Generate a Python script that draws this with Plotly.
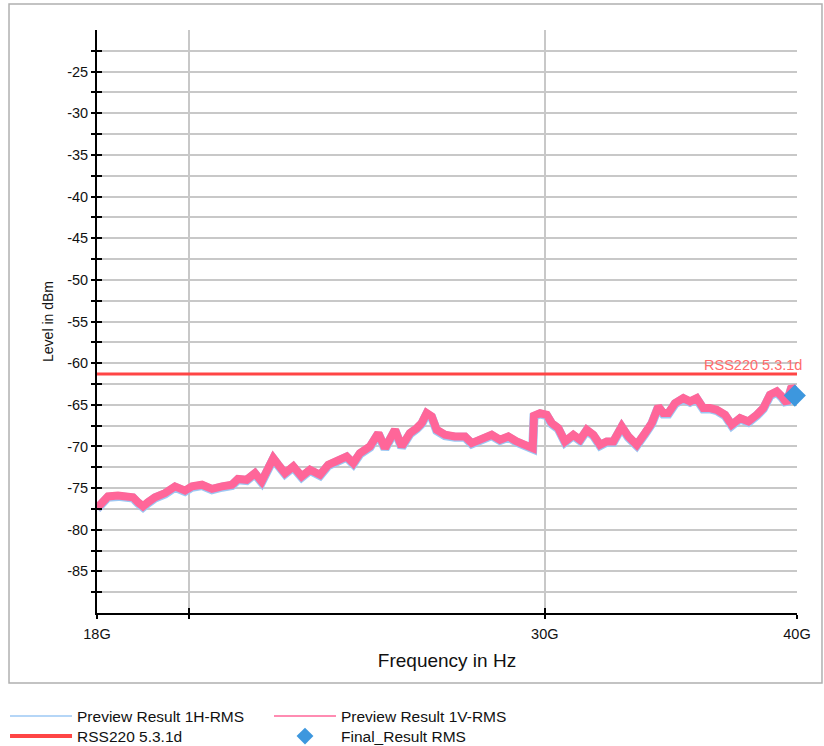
import math
import plotly.graph_objects as go

# Frequencies in GHz, levels in dBm
freq_ghz = [18.00, 18.097, 18.227, 18.436, 18.648, 18.755, 18.862, 18.970, 19.078, 19.231,
            19.452, 19.675, 19.901, 20.060, 20.290, 20.523, 20.758, 20.996, 21.140, 21.351,
            21.554, 21.719, 21.884, 22.009, 22.135, 22.305, 22.517, 22.734, 22.950, 23.214,
            23.434, 23.660, 23.931, 24.112, 24.297, 24.576, 24.810, 25.000, 25.143, 25.287,
            25.481, 25.724, 25.921, 26.069, 26.218, 26.368, 26.519, 26.771, 27.078, 27.389,
            27.599, 27.915, 28.236, 28.504, 28.776, 29.052, 29.329, 29.497, 29.588, 29.632,
            29.836, 30.065, 30.237, 30.466, 30.699, 30.991, 31.229, 31.469, 31.707, 31.950,
            32.195, 32.438, 32.751, 32.999, 33.316, 33.633, 33.891, 34.147, 34.342, 34.539,
            34.804, 35.135, 35.405, 35.677, 35.946, 36.222, 36.500, 36.847, 37.130, 37.483,
            37.840, 38.204, 38.493, 38.788, 39.086, 39.310, 39.535, 39.760, 39.910]
level_v = [-77.4, -76.7, -76.0, -75.9, -75.9, -76.1, -76.7, -77.2, -76.7, -76.1,
           -75.6, -74.8, -75.3, -74.8, -74.6, -75.1, -74.8, -74.6, -73.9, -74.0,
           -73.2, -74.2, -72.6, -71.4, -72.2, -73.2, -72.4, -73.6, -72.8, -73.4,
           -72.2, -71.8, -71.2, -72.0, -70.8, -70.0, -68.4, -70.2, -69.2, -68.0,
           -70.0, -68.4, -67.8, -67.2, -66.0, -66.4, -68.0, -68.6, -68.8, -68.8,
           -69.6, -69.2, -68.6, -69.2, -68.8, -69.4, -69.8, -70.0, -70.2, -66.3,
           -66.0, -66.2, -67.2, -67.8, -69.4, -68.6, -69.2, -68.0, -68.6, -69.8,
           -69.4, -69.4, -67.6, -68.8, -69.8, -68.4, -67.2, -65.2, -66.0, -66.0,
           -64.8, -64.2, -64.6, -64.2, -65.4, -65.4, -65.6, -66.2, -67.4, -66.6,
           -67.0, -66.2, -65.4, -63.8, -63.4, -64.0, -64.8, -62.8, -63.4]
level_h = [-77.5, -76.8, -76.1, -76.0, -76.0, -76.2, -76.8, -77.3, -76.8, -76.2,
           -75.7, -74.9, -75.4, -74.9, -74.7, -75.2, -74.9, -74.7, -74.0, -74.1,
           -73.3, -74.3, -72.7, -71.5, -72.3, -73.3, -72.5, -73.7, -72.9, -73.5,
           -72.3, -71.9, -71.3, -72.1, -70.9, -70.1, -68.5, -70.3, -69.3, -68.1,
           -70.1, -68.5, -67.9, -67.3, -66.1, -66.5, -68.1, -68.7, -68.9, -68.9,
           -69.7, -69.3, -68.7, -69.3, -68.9, -69.5, -69.9, -70.1, -70.3, -66.4,
           -66.1, -66.3, -67.3, -67.9, -69.5, -68.7, -69.3, -68.1, -68.7, -69.9,
           -69.5, -69.5, -67.7, -68.9, -69.9, -68.5, -67.3, -65.3, -66.1, -66.1,
           -64.9, -64.3, -64.7, -64.3, -65.5, -65.5, -65.7, -66.3, -67.5, -66.7,
           -67.1, -66.3, -65.5, -63.9, -63.5, -64.1, -64.9, -62.9, -63.5]

limit_freq_ghz = [18.0, 40.0]
limit_level = [-61.3, -61.3]
limit_name = "RSS220 5.3.1d"

final_freq_ghz = [39.90]
final_level = [-63.9]

x_tick_vals_ghz = [18, 20, 30, 40]
x_tick_text = ["18G", "", "30G", "40G"]
y_tick_vals = [-87.5, -85, -82.5, -80, -77.5, -75, -72.5, -70, -67.5, -65, -62.5, -60,
               -57.5, -55, -52.5, -50, -47.5, -45, -42.5, -40, -37.5, -35, -32.5, -30,
               -27.5, -25, -22.5]
y_tick_text = [("%g" % v) if v % 5 == 0 else "" for v in y_tick_vals]

G = 1e9
C_H = "#9cc8f4"
C_V = "#ff6699"
C_LIM = "#ff4545"
C_FIN = "#3d97de"

fig = go.Figure()
# data traces
fig.add_trace(go.Scatter(x=[f * G for f in freq_ghz], y=level_h, mode="lines",
                         name="Preview Result 1H-RMS", showlegend=False, legendgroup="h",
                         line=dict(color=C_H, width=9)))
fig.add_trace(go.Scatter(x=[f * G for f in freq_ghz], y=level_v, mode="lines",
                         name="Preview Result 1V-RMS", showlegend=False, legendgroup="v",
                         line=dict(color=C_V, width=8)))
fig.add_trace(go.Scatter(x=[f * G for f in limit_freq_ghz], y=limit_level, mode="lines",
                         name=limit_name, xaxis="x2", yaxis="y2", showlegend=False,
                         legendgroup="l", line=dict(color=C_LIM, width=3)))
fig.add_trace(go.Scatter(x=[f * G for f in final_freq_ghz], y=final_level, mode="markers",
                         name="Final_Result RMS", showlegend=False, legendgroup="f",
                         cliponaxis=False,
                         marker=dict(symbol="diamond", size=17, color=C_FIN)))
# legend entries (thin line symbols like the reference), 2x2 grid
fig.add_trace(go.Scatter(x=[None], y=[None], mode="lines", name="Preview Result 1H-RMS",
                         legendgroup="h", legend="legend",
                         line=dict(color=C_H, width=1.5)))
fig.add_trace(go.Scatter(x=[None], y=[None], mode="lines", name="Preview Result 1V-RMS",
                         legendgroup="v", legend="legend2",
                         line=dict(color=C_V, width=1.5)))
fig.add_trace(go.Scatter(x=[None], y=[None], mode="lines", name=limit_name,
                         legendgroup="l", legend="legend3",
                         line=dict(color=C_LIM, width=4)))
fig.add_trace(go.Scatter(x=[None], y=[None], mode="markers", name="Final_Result RMS",
                         legendgroup="f", legend="legend4",
                         marker=dict(symbol="diamond", size=13, color=C_FIN)))

xr = [math.log10(18e9), math.log10(40e9)]
yr = [-90, -20]
font = "Liberation Sans, Arial, sans-serif"

common_x = dict(type="log", range=xr, tickvals=[v * G for v in x_tick_vals_ghz])
common_y = dict(range=yr, tickvals=y_tick_vals)

legend_style = dict(orientation="v", yanchor="top", xanchor="left",
                    font=dict(size=15.5), tracegroupgap=0, traceorder="normal",
                    bgcolor="rgba(0,0,0,0)", itemwidth=62)
col1_x, col2_x = -0.1314, 0.2457
row1_y, row2_y = -0.1483, -0.1827

fig.update_layout(
    width=824, height=746,
    margin=dict(l=97, r=27, t=30, b=133, autoexpand=False),
    paper_bgcolor="white", plot_bgcolor="white",
    font=dict(family=font, size=14, color="#111111"),
    xaxis=dict(**common_x, ticktext=x_tick_text, ticks="outside", ticklen=4,
               tickcolor="black", tickwidth=1.5, ticklabelstandoff=3,
               showgrid=True, gridcolor="#c8c8c8", gridwidth=1.5,
               showline=True, linecolor="black", linewidth=2, zeroline=False,
               tickfont=dict(size=14.5),
               title=dict(text="Frequency in Hz", font=dict(size=19), standoff=12)),
    yaxis=dict(**common_y, ticktext=y_tick_text, ticks="outside", ticklen=4,
               tickcolor="black", tickwidth=1.5,
               showgrid=True, gridcolor="#c8c8c8", gridwidth=1.5,
               showline=True, linecolor="black", linewidth=2, zeroline=False,
               tickfont=dict(size=14.5),
               title=dict(text="Level in dBm", font=dict(size=14), standoff=10)),
    xaxis2=dict(**common_x, overlaying="x", side="bottom", ticks="inside", ticklen=5,
                tickcolor="black", tickwidth=1.5, showticklabels=False,
                showgrid=False, showline=False, zeroline=False, anchor="y2"),
    yaxis2=dict(**common_y, overlaying="y", side="left", ticks="inside", ticklen=5,
                tickcolor="black", tickwidth=1.5, showticklabels=False,
                showgrid=False, showline=False, zeroline=False, anchor="x2"),
    legend=dict(**legend_style, x=col1_x, y=row1_y),
    legend2=dict(**legend_style, x=col2_x, y=row1_y),
    legend3=dict(**legend_style, x=col1_x, y=row2_y),
    legend4=dict(**legend_style, x=col2_x, y=row2_y),
    shapes=[dict(type="rect", xref="paper", yref="paper",
                 x0=-0.1257, x1=1.0357, y0=-0.1201, y1=1.0446,
                 line=dict(color="#b0b0b0", width=1.5), fillcolor="rgba(0,0,0,0)",
                 layer="below")],
    annotations=[dict(x=xr[1], y=limit_level[0], xref="x", yref="y", text=limit_name,
                      showarrow=False, xanchor="right", yanchor="bottom", xshift=7,
                      yshift=-1, font=dict(size=14.5, color="#ff6b6b"))],
    showlegend=True,
)

fig.write_html("out.html")
